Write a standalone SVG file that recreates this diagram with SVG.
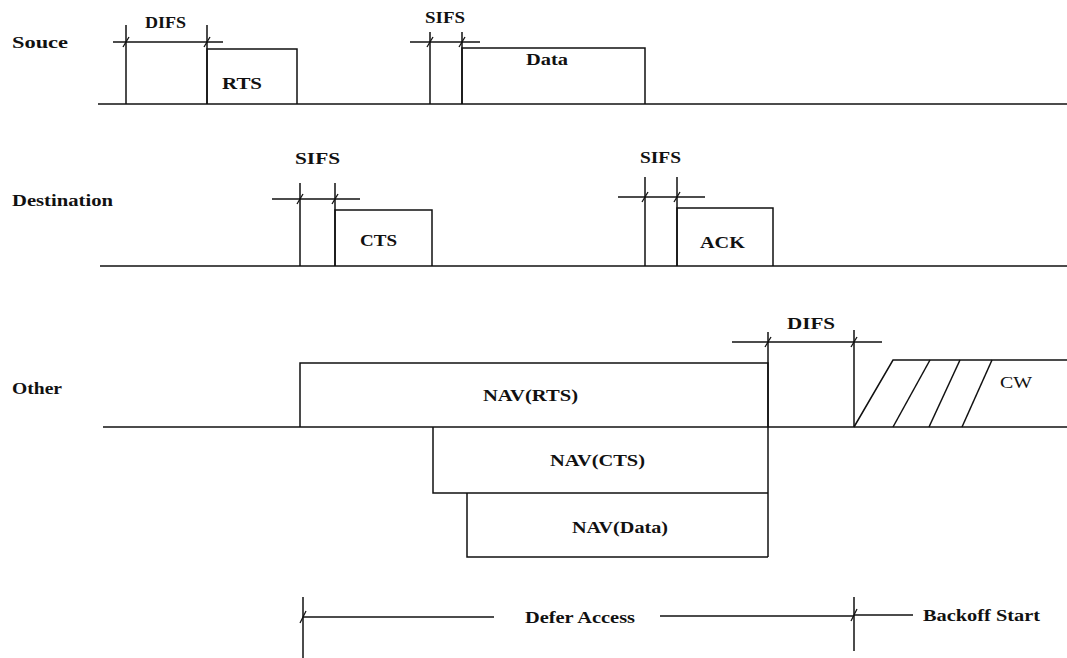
<svg xmlns="http://www.w3.org/2000/svg" width="1067" height="658" viewBox="0 0 1067 658">
<style>
.ln{stroke:#111;stroke-width:1.5;fill:none}
.t{font-family:"Liberation Serif","Times New Roman",serif;font-weight:bold;font-size:16px;fill:#111}
.r{font-family:"Liberation Serif","Times New Roman",serif;font-size:16px;fill:#111}
.tk{stroke:#111;stroke-width:1.3}
</style>
<rect width="1067" height="658" fill="#fff"/>
<g id="labels">
<text class="t" x="12" y="48" textLength="56" lengthAdjust="spacingAndGlyphs">Souce</text>
<text class="t" x="12" y="206" textLength="101" lengthAdjust="spacingAndGlyphs">Destination</text>
<text class="t" x="12" y="394" textLength="50" lengthAdjust="spacingAndGlyphs">Other</text>
</g>
<g id="connectors">
<line class="ln" x1="98" y1="104" x2="1067" y2="104"/>
<line class="ln" x1="100" y1="266" x2="1067" y2="266"/>
<line class="ln" x1="103" y1="427" x2="1067" y2="427"/>
<line class="ln" x1="126" y1="25" x2="126" y2="104"/>
<line class="ln" x1="207" y1="25" x2="207" y2="104"/>
<line class="ln" x1="113" y1="42" x2="223" y2="42"/>
<line class="tk" x1="123" y1="47" x2="129" y2="37"/>
<line class="tk" x1="204" y1="47" x2="210" y2="37"/>
<line class="ln" x1="430" y1="32" x2="430" y2="104"/>
<line class="ln" x1="462" y1="32" x2="462" y2="104"/>
<line class="ln" x1="410" y1="42" x2="480" y2="42"/>
<line class="tk" x1="427" y1="47" x2="433" y2="37"/>
<line class="tk" x1="459" y1="47" x2="465" y2="37"/>
<line class="ln" x1="300" y1="183" x2="300" y2="266"/>
<line class="ln" x1="335" y1="183" x2="335" y2="266"/>
<line class="ln" x1="272" y1="199" x2="360" y2="199"/>
<line class="tk" x1="297" y1="204" x2="303" y2="194"/>
<line class="tk" x1="332" y1="204" x2="338" y2="194"/>
<line class="ln" x1="645" y1="177" x2="645" y2="266"/>
<line class="ln" x1="677" y1="177" x2="677" y2="266"/>
<line class="ln" x1="618" y1="197" x2="705" y2="197"/>
<line class="tk" x1="642" y1="202" x2="648" y2="192"/>
<line class="tk" x1="674" y1="202" x2="680" y2="192"/>
<line class="ln" x1="768" y1="332" x2="768" y2="557"/>
<line class="ln" x1="854" y1="330" x2="854" y2="427"/>
<line class="ln" x1="732" y1="342" x2="882" y2="342"/>
<line class="tk" x1="765" y1="347" x2="771" y2="337"/>
<line class="tk" x1="851" y1="347" x2="857" y2="337"/>
<line class="ln" x1="303" y1="597" x2="303" y2="658"/>
<line class="ln" x1="303" y1="617" x2="494" y2="617"/>
<line class="ln" x1="660" y1="616" x2="854" y2="616"/>
<line class="ln" x1="854" y1="597" x2="854" y2="651"/>
<line class="ln" x1="854" y1="615" x2="913" y2="615"/>
<line class="tk" x1="300" y1="623" x2="306" y2="611"/>
<line class="tk" x1="851" y1="621" x2="857" y2="609"/>
</g>
<g id="node-rts">
<polyline class="ln" points="207,104 207,49 297,49 297,104"/>
<text class="t" x="222" y="89" textLength="40" lengthAdjust="spacingAndGlyphs">RTS</text>
</g>
<g id="node-data">
<polyline class="ln" points="462,104 462,48 645,48 645,104"/>
<text class="t" x="526" y="65" textLength="42" lengthAdjust="spacingAndGlyphs">Data</text>
</g>
<g id="node-cts">
<polyline class="ln" points="335,266 335,210 432,210 432,266"/>
<text class="t" x="360" y="246" textLength="37" lengthAdjust="spacingAndGlyphs">CTS</text>
</g>
<g id="node-ack">
<polyline class="ln" points="677,266 677,208 773,208 773,266"/>
<text class="t" x="700" y="248" textLength="45" lengthAdjust="spacingAndGlyphs">ACK</text>
</g>
<g id="node-nav-rts">
<polyline class="ln" points="300,427 300,363 768,363 768,427"/>
<text class="t" x="483" y="401" textLength="95" lengthAdjust="spacingAndGlyphs">NAV(RTS)</text>
</g>
<g id="node-nav-cts">
<polyline class="ln" points="433,427 433,493 768,493"/>
<text class="t" x="550" y="466" textLength="95" lengthAdjust="spacingAndGlyphs">NAV(CTS)</text>
</g>
<g id="node-nav-data">
<polyline class="ln" points="467,493 467,557 768,557"/>
<text class="t" x="572" y="533" textLength="96" lengthAdjust="spacingAndGlyphs">NAV(Data)</text>
</g>
<g id="node-cw">
<polyline class="ln" points="854,427 893,360 1067,360"/>
<line class="ln" x1="893" y1="427" x2="930" y2="360"/>
<line class="ln" x1="929" y1="427" x2="960" y2="360"/>
<line class="ln" x1="962" y1="427" x2="992" y2="360"/>
<text class="r" x="1000" y="388" textLength="32" lengthAdjust="spacingAndGlyphs">CW</text>
</g>
<g id="timing-labels">
<text class="t" x="145" y="28" textLength="41" lengthAdjust="spacingAndGlyphs">DIFS</text>
<text class="t" x="425" y="23" textLength="40" lengthAdjust="spacingAndGlyphs">SIFS</text>
<text class="t" x="295" y="164" textLength="45" lengthAdjust="spacingAndGlyphs">SIFS</text>
<text class="t" x="640" y="163" textLength="41" lengthAdjust="spacingAndGlyphs">SIFS</text>
<text class="t" x="787" y="329" textLength="48" lengthAdjust="spacingAndGlyphs">DIFS</text>
<text class="t" x="525" y="623" textLength="110" lengthAdjust="spacingAndGlyphs">Defer Access</text>
<text class="t" x="923" y="621" textLength="117" lengthAdjust="spacingAndGlyphs">Backoff Start</text>
</g>
</svg>
